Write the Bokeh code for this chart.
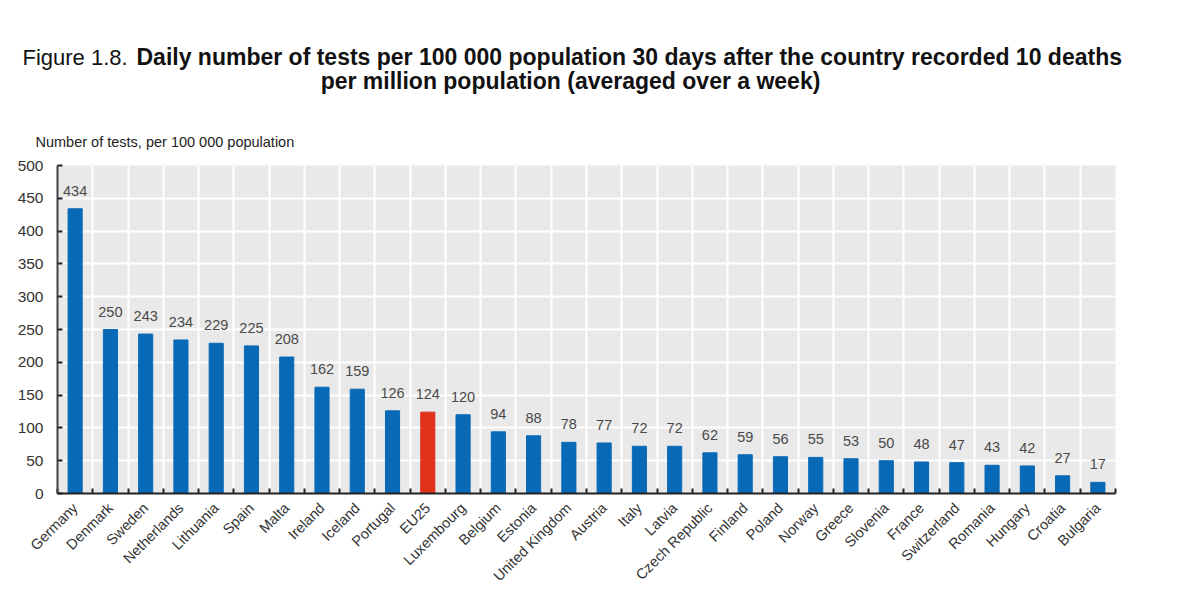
from bokeh.plotting import figure
from bokeh.models import Range1d, FixedTicker, Label, ColumnDataSource, LabelSet
from bokeh.embed import file_html
from bokeh.resources import INLINE
from bokeh.core.properties import value
import math

countries = ["Germany", "Denmark", "Sweden", "Netherlands", "Lithuania", "Spain", "Malta",
             "Ireland", "Iceland", "Portugal", "EU25", "Luxembourg", "Belgium", "Estonia",
             "United Kingdom", "Austria", "Italy", "Latvia", "Czech Republic", "Finland",
             "Poland", "Norway", "Greece", "Slovenia", "France", "Switzerland", "Romania",
             "Hungary", "Croatia", "Bulgaria"]
tests = [434, 250, 243, 234, 229, 225, 208, 162, 159, 126, 124, 120, 94, 88, 78, 77, 72, 72,
         62, 59, 56, 55, 53, 50, 48, 47, 43, 42, 27, 17]
highlight = "EU25"
y_ticks = [0, 50, 100, 150, 200, 250, 300, 350, 400, 450, 500]

BLUE = "#0869b6"
RED = "#e2321c"
FONT = "Liberation Sans"

n = len(countries)
xs = list(range(n))
colors = [RED if c == highlight else BLUE for c in countries]
src = ColumnDataSource(dict(x=xs, top=tests, color=colors, label=[str(v) for v in tests]))

p = figure(width=1184, height=592, output_backend="svg", toolbar_location=None,
           x_range=Range1d(-0.5, n - 0.5), y_range=Range1d(0, 500),
           min_border_left=57, min_border_right=69, min_border_top=165, min_border_bottom=97)
p.outline_line_color = None
p.background_fill_color = "#e9e9e9"
p.border_fill_color = "white"
p.title.visible = False

p.vbar(x="x", top="top", width=0.4, bottom=0, color="color", source=src)

labels = LabelSet(x="x", y="top", text="label", source=src, text_align="center",
                  text_baseline="bottom", y_offset=13, text_font_size="14.5px",
                  text_color="#4a4a4a", text_font=value(FONT))
p.add_layout(labels)

centers = xs
bounds = [i - 0.5 for i in range(n + 1)]
xa = p.xaxis[0]
xa.ticker = FixedTicker(ticks=centers, minor_ticks=bounds)
xa.major_label_overrides = {i: c for i, c in enumerate(countries)}
xa.major_label_orientation = math.pi / 4
xa.major_tick_line_color = None
xa.minor_tick_in = 5
xa.minor_tick_out = 0
xa.minor_tick_line_color = "#222222"
xa.minor_tick_line_width = 2
xa.axis_line_color = "#222222"
xa.axis_line_width = 2
xa.major_label_text_font = FONT
xa.major_label_text_font_size = "14.5px"
xa.major_label_text_color = "#333333"
xa.major_label_standoff = 6

ya = p.yaxis[0]
ya.ticker = FixedTicker(ticks=y_ticks)
ya.major_tick_in = 5
ya.major_tick_out = 0
ya.major_tick_line_color = "#222222"
ya.major_tick_line_width = 2
ya.minor_tick_line_color = None
ya.axis_line_color = "#444444"
ya.axis_line_width = 2
ya.major_label_text_font = FONT
ya.major_label_text_font_size = "15.5px"
ya.major_label_text_color = "#333333"
ya.major_label_standoff = 14

p.xgrid.ticker = FixedTicker(ticks=bounds)
p.xgrid.grid_line_color = "white"
p.xgrid.grid_line_width = 2
p.ygrid.ticker = FixedTicker(ticks=y_ticks)
p.ygrid.grid_line_color = "white"
p.ygrid.grid_line_width = 2

# texts above the plot (each label gets its own slot, stacked from the frame upward)
p.add_layout(Label(x=-22, y=24, x_units="screen", y_units="screen",
                   text="Number of tests, per 100 000 population",
                   text_font=FONT, text_font_size="14.5px", text_baseline="middle",
                   text_color="#222222"), "above")
p.add_layout(Label(x=513, y=69, x_units="screen", y_units="screen",
                   text="per million population (averaged over a week)",
                   text_font=FONT, text_font_size="23px", text_font_style="bold",
                   text_baseline="middle", text_align="center", text_color="#111111"), "above")
p.add_layout(Label(x=-35, y=66, x_units="screen", y_units="screen", text="Figure 1.8.",
                   text_font=FONT, text_font_size="22px", text_baseline="middle",
                   text_color="#111111"), "above")
p.add_layout(Label(x=79, y=42, x_units="screen", y_units="screen",
                   text="Daily number of tests per 100 000 population 30 days after the country recorded 10 deaths",
                   text_font=FONT, text_font_size="23px", text_font_style="bold",
                   text_baseline="middle", text_color="#111111"), "above")

open("out.html", "w").write(file_html(p, INLINE))
